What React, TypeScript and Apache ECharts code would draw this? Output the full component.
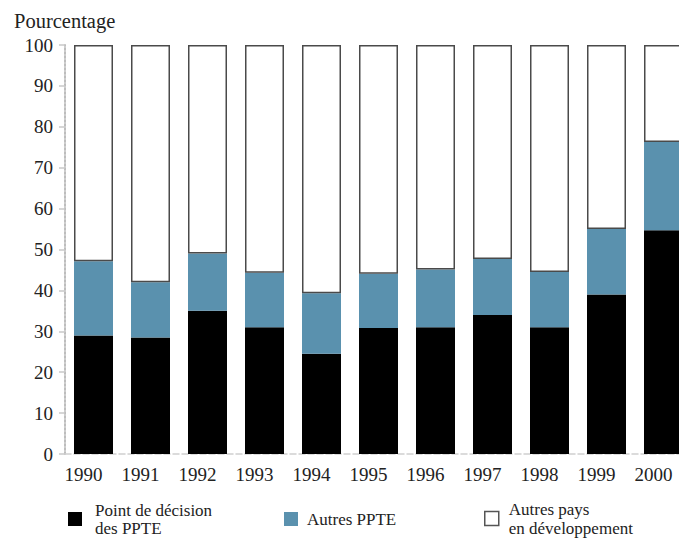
import React, { useEffect, useRef } from "react";
import * as echarts from "echarts";

const years = ["1990", "1991", "1992", "1993", "1994", "1995", "1996", "1997", "1998", "1999", "2000"];
const pointDecision = [29, 28.5, 35, 31, 24.5, 30.8, 31, 34, 31, 39, 54.7];
const autresPPTE = [18.1, 13.5, 14, 13.3, 14.8, 13.3, 14.1, 13.7, 13.5, 16, 21.6];
const autresPays = years.map((_, i) => +(100 - pointDecision[i] - autresPPTE[i]).toFixed(1));
const yTicks = { min: 0, max: 100, interval: 10 };

const S1 = "Point de décision des PPTE";
const S2 = "Autres PPTE";
const S3 = "Autres pays en développement";

const FONT = "Liberation Serif";
const txt = (size: number) => ({
  fontFamily: FONT,
  fontSize: size,
  fontWeight: "normal",
  fontStyle: "normal",
  color: "#222",
});

export default function App() {
  const ref = useRef<HTMLDivElement>(null);
  useEffect(() => {
    if (!ref.current) return;
    const chart = echarts.init(ref.current, undefined, { renderer: "svg" });
    const legendBase = {
      orient: "horizontal",
      padding: 0,
      itemWidth: 14,
      itemHeight: 14,
      icon: "rect",
      selectedMode: false,
    };
    chart.setOption({
      animation: false,
      backgroundColor: "#fff",
      textStyle: { fontFamily: FONT, fontWeight: "normal" },
      title: {
        text: "Pourcentage",
        left: 14,
        top: 10,
        padding: 0,
        textStyle: txt(20.5),
      },
      legend: [
        {
          ...legendBase,
          left: 68,
          top: 501,
          data: [S1],
          formatter: () => "Point de décision\ndes PPTE",
          textStyle: { ...txt(17), lineHeight: 18, padding: [0, 0, 0, 8] },
        },
        {
          ...legendBase,
          left: 284,
          top: 510,
          data: [S2],
          textStyle: { ...txt(17), lineHeight: 18, padding: [0, 0, 0, 4] },
        },
        {
          ...legendBase,
          left: 484,
          top: 490,
          data: [{ name: S3, itemStyle: { color: "#fff", borderColor: "#555", borderWidth: 1.5 } }],
          formatter: () => "Autres pays\nen développement",
          textStyle: { ...txt(17), lineHeight: 19, padding: [19, 0, 0, 5] },
        },
      ],
      grid: { left: 65, right: 0, top: 45, bottom: 92, containLabel: false },
      xAxis: {
        type: "category",
        data: years,
        axisLine: { show: true, lineStyle: { color: "#cfcfcf", type: "dashed", width: 1.5 } },
        axisTick: { show: false },
        axisLabel: {
          ...txt(19),
          margin: 11,
          interval: 0,
          padding: [0, 20, 0, 0],
        },
      },
      yAxis: {
        type: "value",
        min: yTicks.min,
        max: yTicks.max,
        interval: yTicks.interval,
        axisLine: { show: true, lineStyle: { color: "#bdbdbd", type: "dotted", width: 2 } },
        axisTick: { show: true, inside: false, length: 6, lineStyle: { color: "#c8c8c8", width: 1.5 } },
        axisLabel: { ...txt(19), margin: 12 },
        splitLine: { show: false },
      },
      series: [
        {
          name: S1,
          type: "bar",
          stack: "total",
          barWidth: 39,
          data: pointDecision,
          itemStyle: { color: "#000" },
        },
        {
          name: S2,
          type: "bar",
          stack: "total",
          barWidth: 39,
          data: autresPPTE,
          itemStyle: { color: "#5a91ae" },
        },
        {
          name: S3,
          type: "bar",
          stack: "total",
          barWidth: 39,
          data: autresPays,
          itemStyle: { color: "#fff", borderColor: "#4a4a4a", borderWidth: 1.5 },
        },
      ],
    });
    return () => chart.dispose();
  }, []);
  return (
    <div style={{ position: "fixed", left: 0, top: 0, width: 679, height: 546, overflow: "hidden", background: "#fff" }}>
      <div ref={ref} style={{ position: "absolute", left: 0, top: 0, width: 692, height: 546 }} />
    </div>
  );
}
